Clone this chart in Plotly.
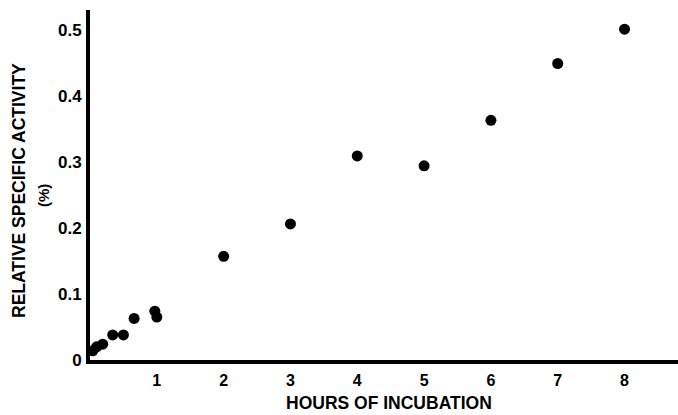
import plotly.graph_objects as go

hours = [0.04, 0.1, 0.19, 0.34, 0.5, 0.66, 0.97, 1.0, 2, 3, 4, 5, 6, 7, 8]
activity = [0.014, 0.02, 0.024, 0.038, 0.038, 0.063, 0.074, 0.065, 0.157, 0.206, 0.309, 0.294, 0.363, 0.449, 0.501]

x_ticks = [1, 2, 3, 4, 5, 6, 7, 8]
y_ticks = [0, 0.1, 0.2, 0.3, 0.4, 0.5]
y_tick_labels = ["0", "0.1", "0.2", "0.3", "0.4", "0.5"]

font_family = "Liberation Sans, Arial, sans-serif"

fig = go.Figure()
fig.add_trace(go.Scatter(
    x=hours, y=activity, mode="markers",
    marker=dict(color="black", size=11, line=dict(width=0)),
    cliponaxis=False,
))

fig.update_layout(
    width=678, height=415,
    margin=dict(l=90, r=0, t=10, b=55, autoexpand=False),
    paper_bgcolor="white", plot_bgcolor="white",
    showlegend=False,
    font=dict(family=font_family, color="black", size=16, weight="bold"),
    xaxis=dict(
        range=[0, 8.8], tickvals=x_ticks, ticks="", showgrid=False, zeroline=False,
        showline=True, linecolor="black", linewidth=4, automargin=False,
        tickfont=dict(size=16, weight="bold"), ticklabelstandoff=3,
    ),
    yaxis=dict(
        range=[0, 0.53], tickvals=y_ticks, ticktext=y_tick_labels, ticks="",
        showgrid=False, zeroline=False, automargin=False,
        showline=True, linecolor="black", linewidth=4,
        tickfont=dict(size=17, weight="bold"), ticklabelstandoff=1,
    ),
    annotations=[
        dict(text="HOURS OF INCUBATION", xref="paper", yref="paper", x=0.5, y=0,
             xanchor="center", yanchor="middle", xshift=5, yshift=-43,
             showarrow=False, font=dict(size=17.5, weight="bold")),
        dict(text="RELATIVE SPECIFIC ACTIVITY", xref="paper", yref="paper", x=0, y=0.5,
             xanchor="center", yanchor="middle", xshift=-71, yshift=-6, textangle=-90,
             showarrow=False, font=dict(size=17.5, weight="bold")),
        dict(text="(%)", xref="paper", yref="paper", x=0, y=0.5,
             xanchor="center", yanchor="middle", xshift=-47, yshift=-11, textangle=-90,
             showarrow=False, font=dict(size=15, weight="bold")),
    ],
)

fig.write_html("out.html", config={"displayModeBar": False},
               post_script="document.body.style.margin='0';")
